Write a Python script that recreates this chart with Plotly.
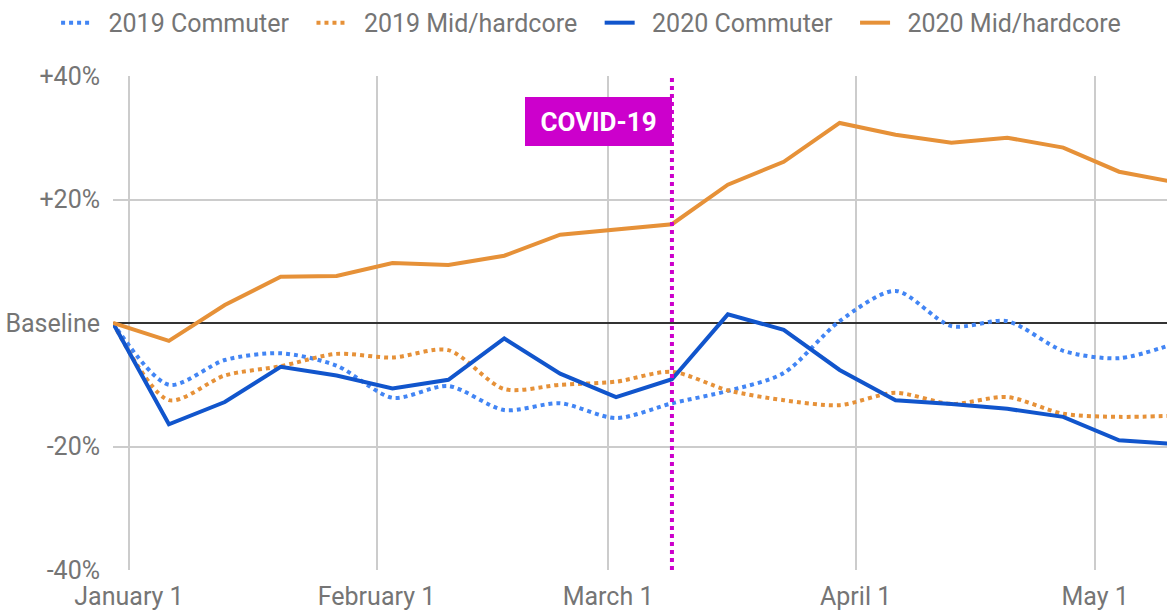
import plotly.graph_objects as go

# ---- data ----
dates = ["2019-12-30", "2020-01-06", "2020-01-13", "2020-01-20", "2020-01-27",
         "2020-02-03", "2020-02-10", "2020-02-17", "2020-02-24", "2020-03-02",
         "2020-03-09", "2020-03-16", "2020-03-23", "2020-03-30", "2020-04-06",
         "2020-04-13", "2020-04-20", "2020-04-27", "2020-05-04", "2020-05-11"]

commuter_2019 = [0, -10.0, -6.0, -4.9, -6.9, -12.1, -10.2, -14.1, -13.0, -15.4,
                 -13.0, -11.0, -8.1, 0.3, 5.2, -0.5, 0.3, -4.5, -5.7, -3.3]
midhard_2019 = [0, -12.5, -8.5, -7.0, -5.0, -5.6, -4.4, -10.7, -10.0, -9.5,
                -7.9, -10.9, -12.5, -13.3, -11.3, -13.1, -12.0, -14.7, -15.2, -15.0]
commuter_2020 = [0, -16.4, -12.8, -7.1, -8.5, -10.6, -9.2, -2.5, -8.2, -12.0,
                 -9.1, 1.4, -1.1, -7.6, -12.5, -13.1, -13.9, -15.2, -19.0, -19.6]
midhard_2020 = [0, -2.9, 2.9, 7.5, 7.6, 9.7, 9.4, 10.9, 14.3, 15.2,
                16.0, 22.4, 26.1, 32.4, 30.5, 29.2, 30.0, 28.4, 24.5, 22.8]

series_names = ["2019 Commuter", "2019 Mid/hardcore", "2020 Commuter", "2020 Mid/hardcore"]

x_tick_vals = ["2020-01-01", "2020-02-01", "2020-03-01", "2020-04-01", "2020-05-01"]
x_tick_text = ["January 1", "February 1", "March 1", "April 1", "May 1"]
y_tick_vals = [-40, -20, 0, 20, 40]
y_tick_text = ["-40%", "-20%", "Baseline", "+20%", "+40%"]

x_range = ["2019-12-30", "2020-05-10"]
covid_date = "2020-03-09"
covid_label = "COVID-19"

# ---- styles ----
LIGHT_BLUE = "#4285F4"
DARK_BLUE = "#1155CC"
ORANGE = "#E69138"
MAGENTA = "#CC00CC"
TEXT = "#757575"
NB = "\u00a0"


def legend_name(label, last=False):
    return NB * 2 + label + ("" if last else NB * 2 + "\u2009")


fig = go.Figure()
fig.add_trace(go.Scatter(x=dates, y=commuter_2019, name=legend_name(series_names[0]), mode="lines",
                         line=dict(color=LIGHT_BLUE, width=4, dash="dot", shape="spline", smoothing=0.8)))
fig.add_trace(go.Scatter(x=dates, y=midhard_2019, name=legend_name(series_names[1]), mode="lines",
                         line=dict(color=ORANGE, width=4, dash="dot", shape="spline", smoothing=0.8)))
fig.add_trace(go.Scatter(x=dates, y=commuter_2020, name=legend_name(series_names[2]), mode="lines",
                         line=dict(color=DARK_BLUE, width=4)))
fig.add_trace(go.Scatter(x=dates, y=midhard_2020, name=legend_name(series_names[3], True), mode="lines",
                         line=dict(color=ORANGE, width=4)))

fig.add_shape(type="line", xref="x", yref="paper", x0=covid_date, x1=covid_date, y0=0, y1=1,
              line=dict(color=MAGENTA, width=4, dash="dot"), layer="above")
fig.add_annotation(x=covid_date, xref="x", xanchor="right", y=0.9575, yref="paper", yanchor="top",
                   text="<b>" + covid_label + "</b>", showarrow=False,
                   font=dict(family="Roboto", size=26, color="white"),
                   bgcolor=MAGENTA, width=147, height=49, borderpad=0, borderwidth=0,
                   align="center", valign="middle")

fig.update_layout(
    width=1167, height=610,
    margin=dict(l=113, r=0, t=76, b=40, autoexpand=False),
    paper_bgcolor="white", plot_bgcolor="white",
    font=dict(family="Roboto", size=25, color=TEXT),
    showlegend=True,
    legend=dict(orientation="h", xref="paper", yref="paper", x=-0.054, y=1.154,
                xanchor="left", yanchor="top", font=dict(size=25, color=TEXT),
                itemwidth=30, tracegroupgap=0),
    hovermode=False,
)
fig.update_xaxes(range=x_range, tickvals=x_tick_vals, ticktext=x_tick_text,
                 showgrid=True, gridcolor="#CCCCCC", gridwidth=2, zeroline=False,
                 showline=False, ticks="", ticklabelstandoff=9, automargin=False)
fig.update_yaxes(range=[-40, 40], tickvals=y_tick_vals, ticktext=y_tick_text,
                 showgrid=True, gridcolor="#CCCCCC", gridwidth=2,
                 zeroline=True, zerolinecolor="#333333", zerolinewidth=2,
                 showline=False, ticks="", ticklabelstandoff=12, automargin=False)

fig.write_html("out.html", config={"displayModeBar": False},
               post_script="document.body.style.margin='0px';document.body.style.overflow='hidden';")
